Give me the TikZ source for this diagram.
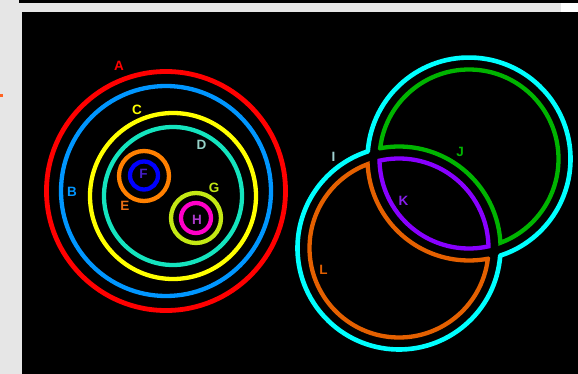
\documentclass[tikz,border=0pt]{standalone}
\usepackage{fontspec}
\setmainfont{Liberation Sans}
\begin{document}
\begin{tikzpicture}[x=1pt,y=-1pt,
  ring/.style={line width=4.3pt},
  lbl/.style={font=\fontsize{13.5}{13.5}\selectfont\bfseries, inner sep=0pt}]
\definecolor{pgray}{RGB}{230,230,230}
\definecolor{cA}{RGB}{255,0,0}
\definecolor{cB}{RGB}{0,150,255}
\definecolor{cC}{RGB}{255,255,0}
\definecolor{cD}{RGB}{20,228,190}
\definecolor{cE}{RGB}{255,128,0}
\definecolor{cF}{RGB}{0,0,255}
\definecolor{cG}{RGB}{195,232,20}
\definecolor{cH}{RGB}{255,0,200}
\definecolor{cI}{RGB}{0,255,255}
\definecolor{cJ}{RGB}{0,180,0}
\definecolor{cK}{RGB}{136,0,255}
\definecolor{cL}{RGB}{228,96,0}
\definecolor{tD}{RGB}{150,210,200}
\definecolor{tE}{RGB}{235,110,20}
\definecolor{tF}{RGB}{70,30,200}
\definecolor{tH}{RGB}{175,60,205}
\definecolor{tI}{RGB}{160,210,210}
\definecolor{tK}{RGB}{135,30,235}
\definecolor{tL}{RGB}{225,95,0}
\definecolor{orangemark}{RGB}{255,100,35}
\useasboundingbox (0,0) rectangle (578,374);
% background
\fill[pgray] (0,0) rectangle (578,374);
\fill[black] (19,0) rectangle (578,3);
\fill[white] (561,3) rectangle (578,12);
\fill[black] (22,12) rectangle (578,374);
\fill[orangemark] (0,94) rectangle (2.5,97.5);
% left group
\draw[ring,cA,line width=4.8pt] (166,191) circle[radius=119.5];
\draw[ring,cB] (166,191) circle[radius=105];
\draw[ring,cC] (173,196) circle[radius=83];
\draw[ring,cD] (173,196) circle[radius=69];
\draw[ring,cE] (144,176) circle[radius=25];
\draw[ring,cF] (144,175.5) circle[radius=14];
\draw[ring,cG] (196,218) circle[radius=25];
\draw[ring,cH] (196,218) circle[radius=15];
\node[lbl,text=cA] (lA) at (119,66) {A};
\node[lbl,text=cB] (lB) at (72,192) {B};
\node[lbl,text=cC] (lC) at (137,110) {C};
\node[lbl,text=tD] (lD) at (201.5,145) {D};
\node[lbl,text=tE] (lE) at (125,206) {E};
\node[lbl,text=tF] (lF) at (143.5,174) {F};
\node[lbl,text=cG] (lG) at (214,187.5) {G};
\node[lbl,text=tH] (lH) at (197,220) {H};
% right group
\coordinate (P) at (399,248);
\coordinate (Q) at (469,159);
\draw[ring,cI,line width=4.6pt,line join=round] (P) ++(4.3:101.5)
  arc[start angle=4.3,end angle=252.1,radius=101.5]
  arc[start angle=184.3,end angle=432.1,radius=101.5] -- cycle;
\draw[ring,cJ] (Q) ++(186.89:89.5)
  arc[start angle=186.89,end angle=429.48,radius=89.5]
  arc[start angle=-2.93,end angle=-100.70,radius=101.5] -- cycle;
\draw[ring,cL] (P) ++(6.89:89.5)
  arc[start angle=6.89,end angle=249.48,radius=89.5]
  arc[start angle=177.07,end angle=79.30,radius=101.5] -- cycle;
\draw[ring,cK] (P) ++(-1.06:89.5)
  arc[start angle=-1.06,end angle=-102.58,radius=89.5]
  arc[start angle=178.94,end angle=77.42,radius=89.5] -- cycle;
\node[lbl,text=tI] (lI) at (333.5,157) {I};
\node[lbl,text=cJ] (lJ) at (460,152) {J};
\node[lbl,text=tK] (lK) at (403.5,201) {K};
\node[lbl,text=tL] (lL) at (323.5,270) {L};
\end{tikzpicture}
\end{document}
